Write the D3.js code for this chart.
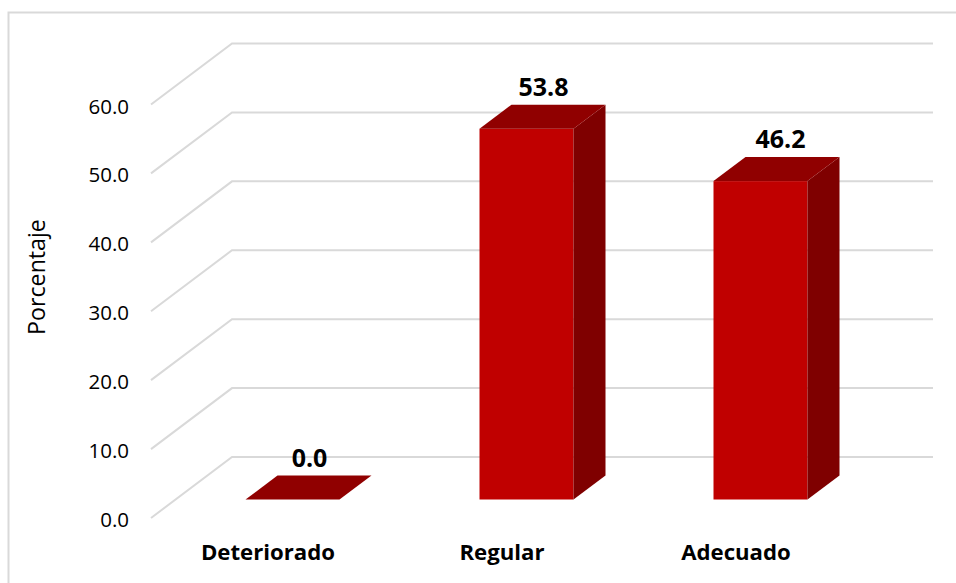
<!DOCTYPE html>
<html>
<head>
<meta charset="utf-8">
<script src="https://d3js.org/d3.v7.min.js"></script>
<style>
  html, body { margin: 0; padding: 0; background: #fff; }
  text { font-family: "Open Sans", "Noto Sans", sans-serif; fill: #000; }
</style>
</head>
<body>
<div id="chart"></div>
<script>
const categories = ["Deteriorado", "Regular", "Adecuado"];
const values = [0.0, 53.8, 46.2];
const tickValues = [0, 10, 20, 30, 40, 50, 60];
// the value labels were dragged a little off centre
const labelNudge = [1, 1, 4];

const width = 956, height = 583;
// floor depth of the 3d box, and how deep a bar is inside it
const depthX = 81, depthY = 61;
const barDepthX = 32, barDepthY = 24;

const svg = d3.select("#chart").append("svg")
  .attr("width", width)
  .attr("height", height)
  .style("display", "block");

// chart frame, only top and left show up
svg.append("path")
  .attr("d", `M8.5,${height}V12.5H${width}`)
  .attr("fill", "none")
  .attr("stroke", "#d9d9d9")
  .attr("stroke-width", 2);

const x = d3.scaleBand().domain(categories).range([151, 853]);
const y = d3.scaleLinear().domain([0, 60]).range([518, 104.5]);
const fmt = d3.format(".1f");

// gridlines: slanted part on the side wall, flat part on the back wall
svg.append("g").selectAll("path")
  .data(tickValues)
  .join("path")
  .attr("fill", "none")
  .attr("stroke", "#d9d9d9")
  .attr("stroke-width", 2)
  .attr("d", d => {
    const p = d3.path();
    p.moveTo(x.range()[0], y(d));
    p.lineTo(x.range()[0] + depthX, y(d) - depthY);
    p.lineTo(x.range()[1] + depthX - 1, y(d) - depthY);
    return p.toString();
  });

svg.append("g").selectAll("text")
  .data(tickValues)
  .join("text")
  .attr("x", 129)
  .attr("y", d => y(d) + 9)
  .attr("text-anchor", "end")
  .attr("font-size", 20.5)
  .text(d => fmt(d));

svg.append("text")
  .attr("transform", "translate(44.5,277) rotate(-90)")
  .attr("text-anchor", "middle")
  .attr("font-size", 23.2)
  .text("Porcentaje");

// bars stand in the middle of the floor depth
const barW = 94;
const offX = (depthX - barDepthX) / 2;
const offY = (depthY - barDepthY) / 2;

const bars = svg.append("g").selectAll("g")
  .data(categories.map((c, i) => ({ c, v: values[i], nudge: labelNudge[i] })))
  .join("g")
  .attr("transform", d => `translate(${x(d.c) + x.bandwidth() / 2 - barW / 2 + offX},${-offY})`);

bars.append("rect")
  .attr("x", 0)
  .attr("y", d => y(d.v))
  .attr("width", barW)
  .attr("height", d => y(0) - y(d.v))
  .attr("fill", "#c00000");

bars.append("path")
  .attr("fill", "#7f0000")
  .attr("d", d => `M${barW},${y(d.v)}l${barDepthX},${-barDepthY}V${y(0) - barDepthY}l${-barDepthX},${barDepthY}Z`);

bars.append("path")
  .attr("fill", "#900000")
  .attr("d", d => `M0,${y(d.v)}l${barDepthX},${-barDepthY}h${barW}l${-barDepthX},${barDepthY}Z`);

bars.append("text")
  .attr("x", d => barW / 2 + barDepthX / 2 + d.nudge)
  .attr("y", d => y(d.v) - barDepthY - 9)
  .attr("text-anchor", "middle")
  .attr("font-size", 25)
  .attr("font-weight", 700)
  .text(d => fmt(d.v));

svg.append("g").selectAll("text")
  .data(categories)
  .join("text")
  .attr("x", d => x(d) + x.bandwidth() / 2)
  .attr("y", 560)
  .attr("text-anchor", "middle")
  .attr("font-size", 22.2)
  .attr("font-weight", 700)
  .text(d => d);
</script>
</body>
</html>
